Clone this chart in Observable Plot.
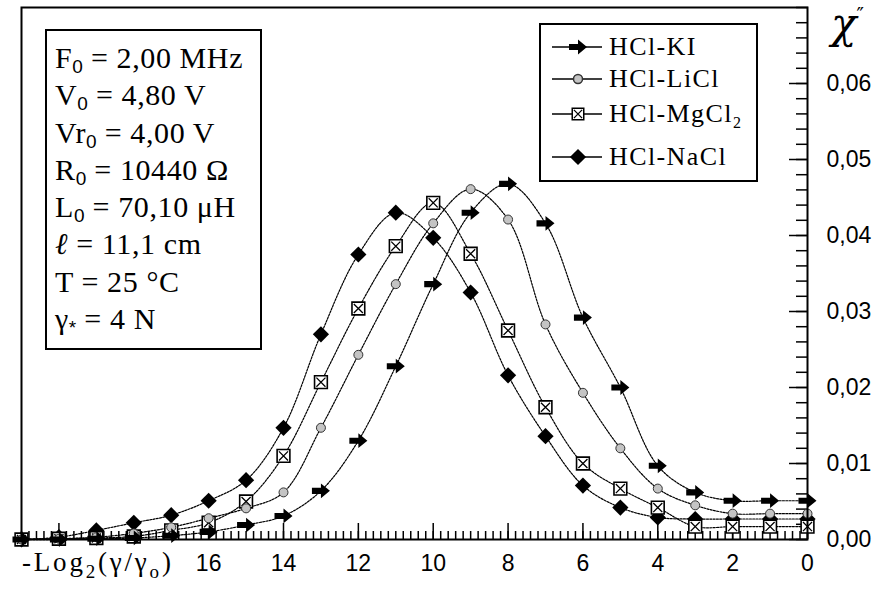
<!DOCTYPE html>
<html><head><meta charset="utf-8">
<script src="https://cdn.jsdelivr.net/npm/d3@7"></script>
<script src="https://cdn.jsdelivr.net/npm/@observablehq/plot@0.6"></script>
<style>
body{margin:0;background:#fff}
#wrap{position:relative;width:879px;height:597px;overflow:hidden;background:#fff}
#wrap > svg{position:absolute;left:0;top:0}
.ov{position:absolute;font-family:"Liberation Serif",serif;color:#000;white-space:nowrap}
#info{left:45px;top:29px;width:217px;height:321px;border:2px solid #000;box-sizing:border-box;background:#fff;padding:8px 0 0 8px;font-size:30px;line-height:37.3px;letter-spacing:0.6px}
#info sub{font-size:19px;vertical-align:-5px;line-height:0;font-family:"Liberation Sans",sans-serif;letter-spacing:0}
#legend{left:539px;top:23px;width:219px;height:159px;border:2px solid #000;box-sizing:border-box;background:#fff}
#xlabel{left:22px;top:547px;font-size:27px;line-height:30px;letter-spacing:2.8px}
#xlabel sub{font-size:19px;vertical-align:-7px;line-height:0}
#ylabel{left:831px;top:4px;font-size:42px;font-style:italic;line-height:40px;font-family:"DejaVu Serif",serif}
#ylabel sup{font-size:20px;vertical-align:16px;line-height:0;font-style:normal}
</style></head><body><div id="wrap"></div>
<script>
// x positions: -Log2(gamma/gamma0)
const xValues = [0,1,2,3,4,5,6,7,8,9,10,11,12,13,14,15,16,17,18,19,20,21];
const seriesNames = ["HCl-KI","HCl-LiCl","HCl-MgCl2","HCl-NaCl"];
const kiValues   = [0.0051,0.0051,0.0051,0.0062,0.0097,0.0200,0.0292,0.0416,0.0468,0.0430,0.0336,0.0228,0.0130,0.0064,0.0031,0.0019,0.0010,0.0005,0.0002,0.0001,0.0000,0.0000];
const liclValues = [0.0034,0.0034,0.0034,0.0045,0.0067,0.0120,0.0193,0.0283,0.0421,0.0461,0.0416,0.0336,0.0243,0.0147,0.0062,0.0041,0.0028,0.0016,0.0008,0.0003,0.0001,0.0000];
const mgclValues = [0.0017,0.0017,0.0017,0.0017,0.0042,0.0067,0.0100,0.0174,0.0275,0.0376,0.0443,0.0386,0.0304,0.0207,0.0110,0.0050,0.0022,0.0012,0.0004,0.0002,0.0001,0.0000];
const naclValues = [0.0027,0.0027,0.0027,0.0027,0.0029,0.0042,0.0071,0.0136,0.0216,0.0325,0.0397,0.0430,0.0375,0.0270,0.0147,0.0078,0.0051,0.0032,0.0022,0.0012,0.0003,0.0000];
const xLabelTicks = [0,2,4,6,8,10,12,14,16];
const yLabelTicks = [0,0.01,0.02,0.03,0.04,0.05,0.06];
const infoLines = ["F<sub>0</sub> = 2,00 MHz","V<sub>0</sub> = 4,80 V","Vr<sub>0</sub> = 4,00 V","R<sub>0</sub> = 10440 Ω","L<sub>0</sub> = 70,10 μH","<i>ℓ</i> = 11,1 cm","T = 25 °C","γ<sub>*</sub> = 4 N"];

const allValues = [kiValues, liclValues, mgclValues, naclValues];
const rows = [];
seriesNames.forEach((s, i) => xValues.forEach((x, j) => rows.push({s, x, v: allValues[i][j]})));
const bySeries = s => rows.filter(d => d.s === s);

const arrowSymbol = {draw(ctx, size) {
  const r = Math.sqrt(size / Math.PI);
  ctx.moveTo(-r, -0.34*r); ctx.lineTo(0, -0.34*r); ctx.lineTo(0, -0.82*r);
  ctx.lineTo(r, 0); ctx.lineTo(0, 0.82*r); ctx.lineTo(0, 0.34*r); ctx.lineTo(-r, 0.34*r); ctx.closePath();
}};

const W = 879, H = 597, mL = 21, mR = 72, mT = 7, mB = 58;
const pxPerX = (W - mL - mR) / 21, pxPerY = (H - mT - mB) / 0.07;

const xMinor = d3.range(0, 21.001, 0.2);
const xMajor = d3.range(0, 21, 2);
const yMinor = d3.range(0, 0.0701, 0.002);
const fmtY = d => d.toFixed(2).replace(".", ",");
// major tick rows (tick length expressed in the other scale's units)
const xMajorRows = xMajor.map(v => ({v, a: 0, b: 16 / pxPerY}));
const yMajorRows = yLabelTicks.map(v => ({v, a: 0, b: 18 / pxPerX}));

const plot = Plot.plot({
  width: W, height: H,
  marginLeft: mL, marginRight: mR, marginTop: mT, marginBottom: mB,
  x: {domain: [21, 0]},
  y: {domain: [0, 0.07]},
  style: {fontFamily: "Liberation Sans, sans-serif", fontSize: "23px", background: "white", color: "black"},
  marks: [
    Plot.axisX({ticks: xMinor, tickSize: 8, dy: -8, tickFormat: () => "", label: null, strokeWidth: 1.5}),
    Plot.axisY({anchor: "right", ticks: yMinor, tickSize: 12, dx: -12, tickFormat: () => "", label: null, strokeWidth: 1.5}),
    Plot.ruleX(xMajorRows, {x: "v", y1: "a", y2: "b", stroke: "black", strokeWidth: 1.5}),
    Plot.ruleY(yMajorRows, {y: "v", x1: "a", x2: "b", stroke: "black", strokeWidth: 1.5}),
    Plot.line(rows, {x: "x", y: "v", z: "s", curve: "catmull-rom", stroke: "#000", strokeWidth: 1.2, strokeDasharray: "2,1.3"}),
    Plot.dot(bySeries("HCl-NaCl"), {x: "x", y: "v", symbol: "diamond2", r: 7.3, fill: "#000"}),
    Plot.dot(bySeries("HCl-MgCl2"), {x: "x", y: "v", symbol: "square", r: 7.2, fill: "#fff", stroke: "#000", strokeWidth: 1.6}),
    Plot.dot(bySeries("HCl-MgCl2"), {x: "x", y: "v", symbol: "times", r: 4.2, stroke: "#000", strokeWidth: 1.3}),
    Plot.dot(bySeries("HCl-LiCl"), {x: "x", y: "v", symbol: "circle", r: 4.5, fill: "#c4c4c4", stroke: "#333", strokeWidth: 1}),
    Plot.dot(bySeries("HCl-KI"), {x: "x", y: "v", symbol: arrowSymbol, r: 9, fill: "#000"}),
    Plot.axisX({ticks: xLabelTicks, tickSize: 0, tickPadding: 15, tickFormat: d => String(d), label: null}),
    Plot.axisY({anchor: "right", ticks: yLabelTicks, tickSize: 0, tickPadding: 19, tickFormat: fmtY, label: null}),
    Plot.frame({stroke: "#000", strokeWidth: 2})
  ]
});
const wrap = document.getElementById("wrap");
wrap.appendChild(plot);

// info box
const info = document.createElement("div");
info.id = "info"; info.className = "ov";
info.innerHTML = infoLines.join("<br>");
wrap.appendChild(info);

// legend
const legend = document.createElement("div");
legend.id = "legend"; legend.className = "ov";
wrap.appendChild(legend);
const lsvg = d3.select(legend).append("svg").attr("width", 215).attr("height", 155).style("position","absolute").style("left","0").style("top","0");
const legendY = [22, 54, 89, 132];
const symSpec = [
  {type: arrowSymbol, r: 9, fill: "#000", stroke: "none"},
  {type: d3.symbolCircle, r: 4.5, fill: "#c4c4c4", stroke: "#333"},
  {type: d3.symbolSquare, r: 6.5, fill: "#fff", stroke: "#000", times: true},
  {type: d3.symbolDiamond2, r: 7.3, fill: "#000", stroke: "none"}
];
const legendText = ["HCl-KI","HCl-LiCl","HCl-MgCl<tspan font-size='16' dy='6'>2</tspan>","HCl-NaCl"];
seriesNames.forEach((s, i) => {
  const y = legendY[i];
  const g = lsvg.append("g");
  g.append("line").attr("x1", 11).attr("x2", 61).attr("y1", y).attr("y2", y).attr("stroke", "#000").attr("stroke-width", 1.5);
  const sp = symSpec[i];
  g.append("path").attr("transform", `translate(37,${y})`).attr("d", d3.symbol(sp.type, Math.PI*sp.r*sp.r)())
    .attr("fill", sp.fill).attr("stroke", sp.stroke).attr("stroke-width", 1.5);
  if (sp.times) g.append("path").attr("transform", `translate(37,${y})`).attr("d", d3.symbol(d3.symbolTimes, Math.PI*3.8*3.8)()).attr("stroke", "#000").attr("stroke-width", 1.3).attr("fill","none");
  g.append("text").attr("x", 68).attr("y", y + 8).attr("font-family", "Liberation Serif, serif").attr("font-size", 26).attr("letter-spacing", 1.4).html(legendText[i]);
});

// axis titles
const xl = document.createElement("div");
xl.id = "xlabel"; xl.className = "ov";
xl.innerHTML = "-Log<sub>2</sub>(γ/γ<sub>o</sub>)";
wrap.appendChild(xl);
const yl = document.createElement("div");
yl.id = "ylabel"; yl.className = "ov";
yl.innerHTML = "χ<sup>″</sup>";
wrap.appendChild(yl);
</script>
</body></html>
